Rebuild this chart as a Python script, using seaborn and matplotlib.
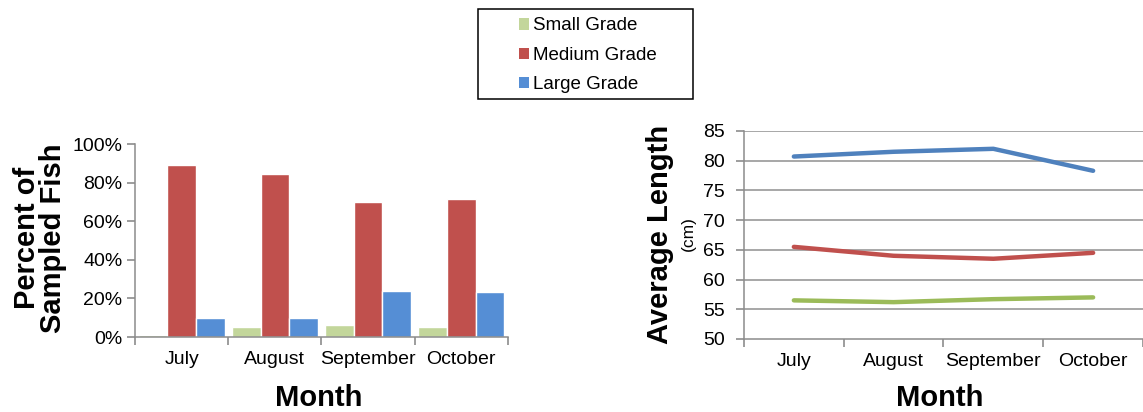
import matplotlib
matplotlib.use("Agg")
import matplotlib.pyplot as plt
from matplotlib.patches import Patch, Rectangle
import seaborn as sns
import pandas as pd

# ---- data -------------------------------------------------------------
months = ["July", "August", "September", "October"]
grades = ["Small Grade", "Medium Grade", "Large Grade"]

pct_small = [1.3, 5, 6, 5]
pct_medium = [89, 84.5, 70, 71.5]
pct_large = [10, 10, 24, 23.5]

len_small = [56.5, 56.2, 56.7, 57.0]
len_medium = [65.5, 64.0, 63.5, 64.5]
len_large = [80.7, 81.5, 82.0, 78.3]

pct_ticks = [0, 20, 40, 60, 80, 100]
len_ticks = [50, 55, 60, 65, 70, 75, 80, 85]

bar_colors = {"Small Grade": "#C3D69B", "Medium Grade": "#C0504D", "Large Grade": "#558ED5"}
line_colors = {"Small Grade": "#9BBB59", "Medium Grade": "#C0504D", "Large Grade": "#4F81BD"}

pct_df = pd.DataFrame({
    "Month": months * 3,
    "Grade": [g for g in grades for _ in months],
    "Percent": pct_small + pct_medium + pct_large,
})
len_df = pd.DataFrame({
    "Month": months * 3,
    "Grade": [g for g in grades for _ in months],
    "Length": len_small + len_medium + len_large,
})

# ---- style ------------------------------------------------------------
sns.set_theme(style="white")
plt.rcParams["font.family"] = ["Liberation Sans", "DejaVu Sans"]
plt.rcParams["text.color"] = "black"
plt.rcParams["xtick.color"] = "black"
plt.rcParams["ytick.color"] = "black"
GRAY = "#8C8C8C"
GRID = "#A0A0A0"
FS = 14
LEG_FS = 13.5
TITLE_FS = 21

fig = plt.figure(figsize=(11.43, 4.12), dpi=100)
fig.patch.set_facecolor("white")


def style_axes(ax, ypad):
    ax.set_xlim(-0.5, 3.5)
    ax.set_xticks(range(len(months)))
    ax.set_xticklabels(months, fontsize=FS, color="black")
    ax.set_xticks([-0.5, 0.5, 1.5, 2.5, 3.5], minor=True)
    ax.tick_params(axis="x", which="major", length=0, pad=10)
    ax.tick_params(axis="x", which="minor", length=6, width=1.2, color=GRAY,
                   direction="out", bottom=True)
    ax.tick_params(axis="y", length=6, width=1.2, color=GRAY, direction="out",
                   left=True, pad=ypad, labelcolor="black")
    ax.set_xlabel("")
    ax.set_ylabel("")
    for s in ["top", "right"]:
        ax.spines[s].set_visible(False)
    for s in ["left", "bottom"]:
        ax.spines[s].set_color(GRAY)
        ax.spines[s].set_linewidth(1.1)


# ---- left: percent of sampled fish -----------------------------------
ax1 = fig.add_axes([0.1181, 0.1820, 0.3263, 0.4684])
sns.barplot(data=pct_df, x="Month", y="Percent", hue="Grade", hue_order=grades,
            palette=bar_colors, width=0.922, saturation=1, legend=False, ax=ax1)
ax1.set_ylim(0, 100)
ax1.set_yticks(pct_ticks)
ax1.set_yticklabels([f"{t}%" for t in pct_ticks], fontsize=FS)
style_axes(ax1, 3)

# ---- right: average length -------------------------------------------
ax2 = fig.add_axes([0.6509, 0.1772, 0.3491, 0.5049])
for y in len_ticks[1:]:
    ax2.axhline(y, color=GRID, lw=1.3, zorder=0)
sns.lineplot(data=len_df, x="Month", y="Length", hue="Grade", hue_order=grades,
             palette=line_colors, linewidth=3.2, legend=False, sort=False, ax=ax2)
ax2.set_ylim(50, 85)
ax2.set_yticks(len_ticks)
ax2.set_yticklabels([str(t) for t in len_ticks], fontsize=FS)
style_axes(ax2, 8)

# ---- axis titles ------------------------------------------------------
fig.text(0.035, 0.422, "Percent of\nSampled Fish", rotation=90, ha="center", va="center",
         multialignment="center", fontsize=TITLE_FS, fontweight="bold", linespacing=0.93)
fig.text(0.2785, 0.034, "Month", ha="center", va="center", fontsize=TITLE_FS, fontweight="bold")
fig.text(0.5775, 0.432, "Average Length", rotation=90, ha="center", va="center",
         fontsize=TITLE_FS, fontweight="bold")
fig.text(0.6020, 0.434, "(cm)", rotation=90, ha="center", va="center", fontsize=12.5)
fig.text(0.8225, 0.034, "Month", ha="center", va="center", fontsize=TITLE_FS, fontweight="bold")

# ---- legend -----------------------------------------------------------
handles = [Patch(facecolor=bar_colors[g], edgecolor="none") for g in grades]
fig.legend(handles, grades, loc="upper left", bbox_to_anchor=(0.4541, 1 - 17.5 / 412),
           frameon=False, fontsize=LEG_FS, handlelength=0.55, handleheight=0.55,
           handletextpad=0.2, labelspacing=0.66, borderpad=0, borderaxespad=0)
fig.patches.append(Rectangle((0.4182, 0.7597), 0.1881, 0.2184, transform=fig.transFigure,
                             fill=False, edgecolor="black", lw=1.1))

fig.savefig("out.png", dpi=100, facecolor="white")
